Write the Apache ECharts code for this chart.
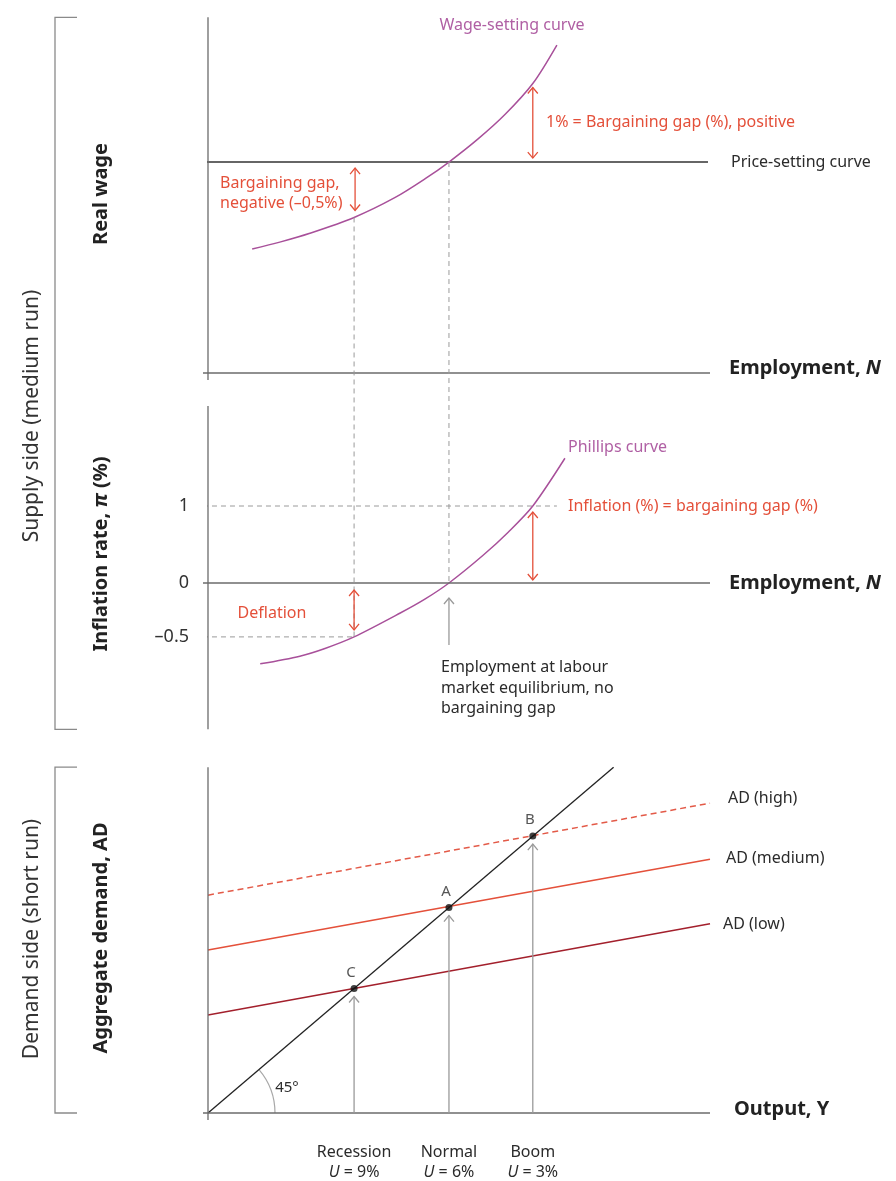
<!DOCTYPE html>
<html><head><meta charset="utf-8">
<script src="https://cdn.jsdelivr.net/npm/echarts@6/dist/echarts.min.js"></script>
<style>html,body{margin:0;padding:0;background:#fff}#c{width:896px;height:1181px}</style>
</head><body><div id="c"></div>
<script>
// ---------- data (drawing units; diagram is schematic) ----------
const wageX = [8.8, 14.3, 20.3, 29.1, 37.3, 43.2, 48.0, 53.8, 59.2, 64.7, 69.5];
const wageSetting = [1.61, 1.70, 1.815, 2.02, 2.28, 2.52, 2.74, 3.04, 3.36, 3.76, 4.26];
const priceSetting = 2.74;
const phillipsX = [10.4, 18.3, 23.3, 29.1, 38.3, 43.2, 48.0, 54.8, 59.8, 64.7, 71.1];
const phillips = [-1.05, -0.95, -0.85, -0.70, -0.39, -0.21, 0, 0.36, 0.66, 1.0, 1.62];
const inflationTickVals = [1, 0, -0.7];
const inflationTickLabels = ['1', '0', '\u20130.5'];
const nRecession = 29.1, nEquilibrium = 48.0, nBoom = 64.7;
const outputCats = ['Recession', 'Normal', 'Boom'];
const outputX = [29.1, 48.0, 64.7];
const unemploymentRate = ['9%', '6%', '3%'];
const pointNames = ['C', 'A', 'B'];
const adNames = ['AD (high)', 'AD (medium)', 'AD (low)'];
const adAtZero = [50.9, 38.1, 22.9];
const adAtMax = [72.4, 59.3, 44.2];
const outputMax = 100;

// ---------- styles ----------
const FONT = '"Noto Sans", "Open Sans", sans-serif';
const PURPLE = '#a8509a', PURPLE_T = '#b060a4', RED = '#e4503a', DARKRED = '#a3202c', ADHIGH = '#e35a48';
const AXIS = '#6b6b6b', DASH = '#9a9a9a', TXT = '#2b2b2b', ARROWGRAY = '#9a9a9a';

const chart = echarts.init(document.getElementById('c'), null, {renderer: 'canvas'});

const grids = [
  {left: 208, width: 502, top: 17.3, height: 355.7},
  {left: 208, width: 502, top: 405.9, height: 323.4},
  {left: 208, width: 502, top: 767.2, height: 345.8}
];
const yRanges = [[0, 4.62], [-1.9, 2.3], [0, 80.8]];
const wageAt = x => wageSetting[wageX.indexOf(x)];
const phillipsAt = x => phillips[phillipsX.indexOf(x)];

const series = [];
series.push({type: 'line', xAxisIndex: 0, yAxisIndex: 0, data: [[-1, priceSetting], [99.6, priceSetting]],
  symbol: 'none', clip: false, lineStyle: {color: '#333', width: 1.4}, z: 3});
series.push({type: 'line', xAxisIndex: 0, yAxisIndex: 0, data: wageX.map((x, i) => [x, wageSetting[i]]),
  smooth: 0.3, symbol: 'none', lineStyle: {color: PURPLE, width: 1.5}, z: 4});
series.push({type: 'line', xAxisIndex: 1, yAxisIndex: 1, data: [[-1, inflationTickVals[0]], [69.5, inflationTickVals[0]]],
  symbol: 'none', clip: false, lineStyle: {color: DASH, width: 1, type: [5, 4]}, z: 2});
series.push({type: 'line', xAxisIndex: 1, yAxisIndex: 1, data: [[-1, inflationTickVals[2]], [nRecession, inflationTickVals[2]]],
  symbol: 'none', clip: false, lineStyle: {color: DASH, width: 1, type: [5, 4]}, z: 2});
series.push({type: 'line', xAxisIndex: 1, yAxisIndex: 1, data: phillipsX.map((x, i) => [x, phillips[i]]),
  smooth: 0.3, symbol: 'none', lineStyle: {color: PURPLE, width: 1.5}, z: 4});
const adColors = [ADHIGH, RED, DARKRED];
adNames.forEach((n, i) => {
  series.push({type: 'line', xAxisIndex: 2, yAxisIndex: 2, name: n,
    data: [[0, adAtZero[i]], [outputMax, adAtMax[i]]], symbol: 'none',
    lineStyle: {color: adColors[i], width: 1.5, type: i === 0 ? [6, 4] : 'solid'}, z: 3});
});
series.push({type: 'line', xAxisIndex: 2, yAxisIndex: 2, data: [[0, 0], [80.8, 80.8]], symbol: 'none',
  lineStyle: {color: '#222', width: 1.3}, z: 4});
series.push({type: 'scatter', xAxisIndex: 2, yAxisIndex: 2, symbolSize: 7, itemStyle: {color: '#111'}, z: 6,
  data: outputX.map((x, i) => ({value: [x, x], name: pointNames[i]})),
  label: {show: true, position: 'top', distance: 5, offset: [-3, 0], formatter: p => p.name,
    fontFamily: FONT, fontSize: 15, color: TXT}});

chart.setOption({
  animation: false,
  grid: grids,
  xAxis: grids.map((g, i) => ({type: 'value', gridIndex: i, min: 0, max: outputMax, show: false})),
  yAxis: grids.map((g, i) => ({type: 'value', gridIndex: i, min: yRanges[i][0], max: yRanges[i][1], show: false})),
  series: series
});

// ---------- annotations via library scales ----------
const P = (g, x, y) => chart.convertToPixel({gridIndex: g}, [x, y]);
const G = [];
function line(x1, y1, x2, y2, stroke, w, dash) {
  G.push({type: 'line', silent: true, z: 10, shape: {x1, y1, x2, y2},
    style: {stroke, lineWidth: w || 1.3, lineDash: dash || null}});
}
function head(x, y, dir, color) { // dir: -1 up, 1 down
  G.push({type: 'polyline', silent: true, z: 10,
    shape: {points: [[x - 5, y - dir * 6], [x, y], [x + 5, y - dir * 6]]},
    style: {stroke: color, lineWidth: 1.3, fill: null}});
}
function vArrow(x, yTop, yBot, color, both) {
  line(x, yTop, x, yBot, color, 1.3);
  head(x, yTop, -1, color);
  if (both) head(x, yBot, 1, color);
}
function text(x, y, t, o) {
  o = o || {};
  G.push({type: 'text', silent: true, z: 20, x, y, rotation: o.rot || 0,
    style: {text: t, fill: o.color || TXT, fontFamily: FONT, fontSize: o.size || 16,
      fontWeight: o.weight || 'normal', fontStyle: o.style || 'normal',
      align: o.align || 'left', verticalAlign: 'middle', rich: o.rich}});
}

// axes
[0, 1, 2].forEach(g => {
  const top = P(g, 0, yRanges[g][1]), bot = P(g, 0, yRanges[g][0]);
  const o = P(g, 0, 0), r = P(g, outputMax, 0);
  line(top[0], top[1], bot[0], bot[1] + (g === 1 ? 0 : 7), AXIS, 1.3);
  line(o[0] - 5, o[1], r[0], r[1], AXIS, 1.3);
});
// brackets
[[0, 1], [2, 2]].forEach(([a, b]) => {
  const t = P(a, 0, yRanges[a][1])[1], bt = P(b, 0, yRanges[b][0])[1];
  G.push({type: 'polyline', silent: true, shape: {points: [[77, t], [55, t], [55, bt], [77, bt]]},
    style: {stroke: '#8a8a8a', lineWidth: 1.3, fill: null}});
});
// vertical dashed guides spanning the supply panels
{
  const a = P(0, nRecession, wageAt(nRecession)), b = P(1, nRecession, phillipsAt(nRecession));
  line(a[0], a[1], b[0], b[1], DASH, 1, [5, 4]);
  const c = P(0, nEquilibrium, priceSetting), d = P(1, nEquilibrium, 0);
  line(c[0], c[1], d[0], d[1], DASH, 1, [5, 4]);
}
// red gap arrows
{
  const p1 = P(0, nBoom, priceSetting), w1 = P(0, nBoom, wageAt(nBoom));
  vArrow(p1[0], w1[1] + 4, p1[1] - 4, RED, true);
  const p2 = P(0, nRecession, priceSetting), w2 = P(0, nRecession, wageAt(nRecession));
  vArrow(p2[0] + 1, p2[1] + 6, w2[1] - 7, RED, true);
  const z1 = P(1, nBoom, 0), i1 = P(1, nBoom, phillipsAt(nBoom));
  vArrow(z1[0], i1[1] + 6, z1[1] - 3, RED, true);
  const z2 = P(1, nRecession, 0), i2 = P(1, nRecession, phillipsAt(nRecession));
  vArrow(z2[0], z2[1] + 7, i2[1] - 7, RED, true);
}
// gray arrow: equilibrium employment
{
  const e = P(1, nEquilibrium, 0);
  vArrow(e[0], e[1] + 15, e[1] + 62, ARROWGRAY, false);
}
// gray arrows from output axis + category labels
const smallRich = {i: {fontFamily: FONT, fontSize: 16, fontStyle: 'italic', fill: TXT},
  n: {fontFamily: FONT, fontSize: 16, fill: TXT}};
outputX.forEach((x, i) => {
  const b = P(2, x, 0), t = P(2, x, x);
  vArrow(b[0], t[1] + 8, b[1], ARROWGRAY, false);
  text(b[0], 1152, outputCats[i], {align: 'center'});
  text(b[0], 1172, '{i|U}{n| = ' + unemploymentRate[i] + '}', {align: 'center', rich: smallRich});
});
// 45 degree arc
{
  const o = P(2, 0, 0), q = P(2, 50, 50);
  const ang = Math.atan2(q[1] - o[1], q[0] - o[0]);
  G.push({type: 'arc', silent: true, shape: {cx: o[0], cy: o[1], r: 67, startAngle: ang, endAngle: 0, clockwise: true},
    style: {stroke: '#a8a8a8', lineWidth: 1.2, fill: null}});
  text(287, 1088, '45\u00b0', {align: 'center', size: 15});
}
// inflation tick labels
inflationTickVals.forEach((v, i) => {
  const p = P(1, 0, v);
  text(p[0] - 19, p[1], inflationTickLabels[i], {align: 'right', size: 18, color: '#333'});
});

// texts
const boldRich = {b: {fontFamily: FONT, fontSize: 20, fontWeight: 'bold', fill: '#222'},
  bi: {fontFamily: FONT, fontSize: 20, fontWeight: 'bold', fontStyle: 'italic', fill: '#222'}};
text(512, 25, 'Wage-setting curve', {align: 'center', color: PURPLE_T});
text(546, 122, '1% = Bargaining gap (%), positive', {color: RED});
text(731, 162, 'Price-setting curve', {color: TXT});
text(220, 183, 'Bargaining gap,', {color: RED});
text(220, 203, 'negative (\u20130,5%)', {color: RED});
text(729, 368, '{b|Employment, }{bi|N}', {rich: boldRich});
text(729, 583, '{b|Employment, }{bi|N}', {rich: boldRich});
text(734, 1109, '{b|Output, Y}', {rich: boldRich});
text(101, 194, 'Real wage', {rot: Math.PI / 2, align: 'center', size: 20, weight: 'bold', color: '#222'});
text(32, 416, 'Supply side (medium run)', {rot: Math.PI / 2, align: 'center', size: 21, color: '#333'});
text(101, 554, '{b|Inflation rate, }{bi|\u03c0}{b| (%)}', {rot: Math.PI / 2, align: 'center', rich: boldRich});
text(272, 613, 'Deflation', {align: 'center', color: RED});
text(568, 506, 'Inflation (%) = bargaining gap (%)', {color: RED});
text(568, 447, 'Phillips curve', {color: PURPLE_T});
text(441, 667, 'Employment at labour', {});
text(441, 688, 'market equilibrium, no', {});
text(441, 708, 'bargaining gap', {});
text(32, 939, 'Demand side (short run)', {rot: Math.PI / 2, align: 'center', size: 21, color: '#333'});
text(101, 938, 'Aggregate demand, AD', {rot: Math.PI / 2, align: 'center', size: 20, weight: 'bold', color: '#222'});
text(728, 798, adNames[0], {});
text(726, 858, adNames[1], {});
text(723, 924, adNames[2], {});

chart.setOption({graphic: {elements: G}});
</script>
</body></html>
